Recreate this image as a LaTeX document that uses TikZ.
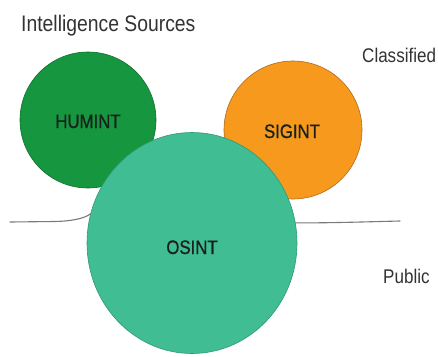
\documentclass[tikz,border=0pt]{standalone}
\usepackage{fontspec}
\setmainfont{Liberation Sans}
\newfontfamily\narrowsans[FakeStretch=0.86]{Liberation Sans}
\newfontfamily\narrowheavy[FakeStretch=0.86,FakeBold=0.8]{Liberation Sans}
\usetikzlibrary{shapes.geometric}
\definecolor{huminfill}{HTML}{15963F}
\definecolor{huminedge}{HTML}{0E7030}
\definecolor{sigfill}{HTML}{F7991D}
\definecolor{sigedge}{HTML}{B06A1E}
\definecolor{osfill}{HTML}{41BD93}
\definecolor{osedge}{HTML}{2E9A74}
\definecolor{labeltext}{HTML}{18221C}
\definecolor{sidetext}{HTML}{333333}
\definecolor{divider}{HTML}{7A7A7A}
\begin{document}
\begin{tikzpicture}[x=1pt,y=-1pt,
  bubble/.style={circle,inner sep=0pt,line width=0.6pt,
    font=\narrowheavy\fontsize{19.5}{20}\selectfont,text=labeltext},
  sidelabel/.style={anchor=base west,inner sep=0pt,text=sidetext,
    font=\narrowsans\fontsize{19.8}{22}\selectfont},
  divline/.style={draw=divider,line width=1.1pt,line cap=round}]
\useasboundingbox (0,0) rectangle (438,356);
\fill[white] (0,0) rectangle (438,356);
% circles
\node[bubble,fill=huminfill,draw=huminedge,minimum size=136pt] (humint) at (88,120) {};
\node[bubble,fill=sigfill,draw=sigedge,minimum size=138pt] (sigint) at (293,130) {};
\node[ellipse,inner sep=0pt,line width=0.6pt,fill=osfill,draw=osedge,
  minimum width=210pt,minimum height=221pt] (osint) at (192,243) {};
% labels inside circles
\node[bubble,anchor=base] (humintlbl) at (88,128) {HUMINT};
\node[bubble,anchor=base] (sigintlbl) at (292,138) {SIGINT};
\node[bubble,anchor=base] (osintlbl) at (192,254) {OSINT};
% divider line
\coordinate (lstart) at (10,222);
\coordinate (rend) at (400,221);
\draw[divline] (lstart) -- (55,221.5) .. controls (74,221) and (85,218) .. (osint.164);
\draw[divline] (osint.11) .. controls (330,223) and (360,222) .. (rend);
% texts
\node[sidelabel,font=\narrowsans\fontsize{22.5}{24}\selectfont] (title) at (21,31) {Intelligence Sources};
\node[sidelabel] (classified) at (362,62) {Classified};
\node[sidelabel] (public) at (383,283) {Public};
\end{tikzpicture}
\end{document}
